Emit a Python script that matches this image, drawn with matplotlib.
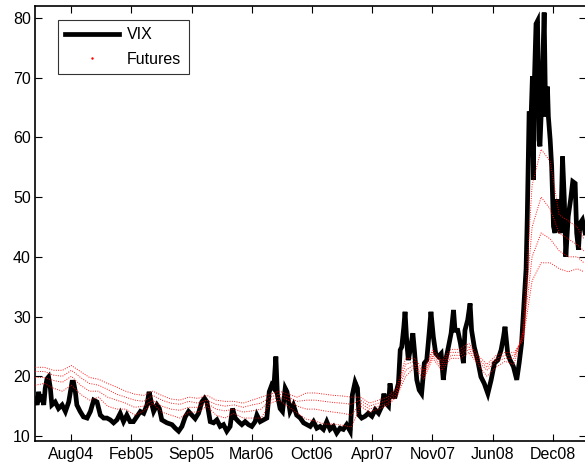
import numpy as np
import matplotlib
matplotlib.use("Agg")
import matplotlib.pyplot as plt
from matplotlib.lines import Line2D

plt.rcParams['font.family'] = ['Liberation Sans', 'DejaVu Sans']

START = np.datetime64('2004-04-04')

# VIX close, sampled at day offsets from START
vix_days = [0, 6, 11, 17, 22, 28, 33, 39, 44, 50, 55, 66, 77, 89, 100, 111, 122, 127, 133, 138,
            149, 160, 172, 183, 194, 205, 216, 227, 238, 249, 260, 271, 282, 293, 304, 315, 326, 337, 349, 360,
            371, 378, 385, 393, 404, 412, 420, 437, 454, 465, 476, 487, 498, 509, 520, 531, 542, 553, 562, 570,
            581, 592, 603, 614, 625, 636, 647, 655, 664, 675, 686, 697, 708, 719, 730, 736, 747, 758, 769, 777,
            785, 792, 799, 804, 813, 821, 830, 836, 846, 857, 868, 880, 891, 902, 913, 924, 935, 946, 957, 968,
            979, 990, 1001, 1012, 1023, 1034, 1046, 1053, 1062, 1070, 1075, 1084, 1095, 1106, 1118, 1129, 1140,
            1151, 1158, 1164, 1173, 1178, 1184, 1195, 1206, 1212, 1217, 1224, 1228, 1234, 1239, 1245, 1254,
            1259, 1267, 1275, 1283, 1292, 1300, 1308, 1314, 1322, 1330, 1339, 1348, 1355, 1363, 1372, 1381,
            1389, 1394, 1403, 1412, 1422, 1427, 1436, 1444, 1449, 1458, 1469, 1480, 1491, 1503, 1514, 1525,
            1536, 1547, 1555, 1560, 1569, 1577, 1588, 1599, 1607, 1615, 1624, 1630, 1634,
            1640, 1647, 1651, 1654, 1658, 1663, 1668, 1673, 1676, 1682, 1690, 1695, 1701, 1704, 1710, 1715,
            1721, 1726, 1732, 1737, 1745, 1751, 1757, 1762, 1770, 1778, 1785, 1793, 1798, 1804, 1809, 1817, 1826]
vix_values = [16.3, 15.2, 17.4, 15.7, 16.9, 15.2, 18.0, 19.6, 19.9, 18.0, 15.2, 15.7, 14.6, 15.2, 14.1, 15.7,
              19.0, 19.0, 17.4, 15.2, 14.1, 13.2, 13.0, 14.1, 16.0, 15.7, 13.5, 13.0, 13.0, 12.7, 12.2, 12.7,
              13.8, 12.4, 13.5, 12.4, 12.4, 13.2, 14.1, 13.8, 15.2, 17.4, 15.7, 14.1, 15.2, 14.6, 12.7, 12.2,
              11.9, 11.3, 10.8, 11.6, 13.2, 14.1, 13.5, 12.9, 13.8, 15.7, 16.3, 15.7, 12.4, 12.2, 12.7, 11.6,
              11.9, 10.8, 11.6, 14.6, 13.0, 12.4, 11.9, 12.4, 11.9, 11.6, 12.4, 13.5, 12.4, 12.7, 13.0, 17.4,
              18.5, 18.0, 23.3, 16.9, 14.6, 14.1, 18.0, 17.4, 14.1, 15.2, 13.5, 13.0, 12.2, 11.9, 11.6, 12.4,
              11.3, 11.6, 11.1, 12.4, 11.1, 11.6, 10.5, 11.3, 11.1, 11.9, 10.8, 16.9, 19.0, 18.0, 13.5, 13.0,
              13.3, 13.8, 13.3, 14.4, 13.8, 15.0, 17.1, 15.5, 15.0, 18.8, 16.6, 16.6, 18.8, 24.4, 24.9, 28.3,
              30.8, 25.5, 22.7, 24.4, 27.2, 24.4, 19.4, 17.7, 17.1, 22.2, 22.7, 27.2, 30.8, 26.6, 23.8, 23.3,
              23.8, 19.4, 22.7, 24.9, 27.2, 31.1, 27.7, 27.7, 25.5, 22.2, 27.7, 29.4, 32.2, 27.7, 24.9, 22.7,
              19.9, 18.8, 17.1, 19.4, 22.2, 22.7, 24.4, 26.6, 28.3, 23.8, 22.7, 21.6, 19.4, 22.2, 25.5, 33.0,
              38.0, 46.8,
              64.0, 64.0, 70.2, 52.9, 70.2, 79.0, 79.5, 59.6, 58.5, 66.3, 80.9, 63.5, 68.5, 63.5, 59.6, 55.1,
              45.1, 44.0, 49.6, 45.1, 44.0, 56.8, 49.6, 40.0, 46.8, 49.6, 52.6, 52.3, 44.0, 41.2, 45.6, 46.2,
              44.0]

# VIX futures settlement prices (nearest to farthest maturity), monthly samples
fut_days = [0, 30, 60, 90, 120, 150, 180, 210, 240, 270, 300, 330, 360, 390, 420, 450, 480, 510, 540, 570,
            600, 630, 660, 690, 720, 750, 780, 810, 840, 870, 900, 930, 960, 990, 1020, 1050, 1080, 1110, 1140,
            1170, 1200, 1230, 1260, 1290, 1320, 1350, 1380, 1410, 1440, 1470, 1500, 1530, 1560, 1590, 1620,
            1650, 1680, 1710, 1740, 1770, 1800, 1822]
fut_near = [18.5, 18.8, 18.0, 17.5, 18.5, 17.0, 16.0, 16.5, 15.0, 14.5, 14.5, 13.5, 14.2, 15.5, 14.0, 13.5,
            13.0, 14.0, 14.0, 15.0, 13.5, 13.0, 13.8, 13.0, 13.0, 13.0, 15.5, 16.0, 15.0, 13.8, 12.8, 12.5,
            12.0, 12.0, 11.8, 11.5, 15.0, 14.0, 14.5, 15.2, 16.5, 20.0, 21.5, 19.5, 23.0, 21.0, 23.0, 23.0,
            24.0, 22.0, 20.0, 21.5, 22.5, 22.0, 27.5, 52.0, 58.0, 56.0, 47.0, 46.0, 45.0, 43.0]
fut_mid1 = [19.8, 19.8, 19.3, 19.0, 20.0, 18.5, 17.5, 17.5, 16.5, 16.0, 15.5, 14.8, 15.0, 16.0, 15.0, 14.5,
            14.3, 14.8, 14.8, 15.5, 14.5, 14.2, 14.5, 14.0, 14.2, 14.5, 16.0, 16.5, 16.0, 15.0, 14.5, 14.5,
            14.2, 14.0, 13.8, 13.5, 15.5, 14.5, 15.0, 15.5, 17.0, 21.0, 22.0, 20.0, 23.5, 21.5, 23.5, 23.5,
            24.5, 22.5, 21.0, 22.5, 23.0, 23.0, 27.0, 45.0, 50.0, 48.0, 44.0, 43.0, 42.0, 41.0]
fut_mid2 = [20.8, 20.8, 20.2, 20.0, 21.0, 19.8, 18.8, 18.5, 17.8, 17.0, 16.5, 16.0, 15.8, 16.8, 16.0, 15.5,
            15.3, 15.8, 15.5, 16.0, 15.3, 15.0, 15.2, 14.8, 15.2, 15.5, 16.5, 17.0, 16.5, 15.8, 16.0, 16.0,
            15.8, 15.6, 15.5, 15.3, 16.0, 15.0, 15.5, 16.0, 17.5, 22.0, 22.5, 20.5, 24.0, 22.0, 24.0, 24.0,
            25.0, 23.0, 21.5, 23.0, 23.5, 23.5, 26.5, 40.0, 44.0, 43.0, 41.0, 40.0, 40.0, 39.0]
fut_far = [21.5, 21.5, 21.0, 21.0, 21.8, 20.8, 19.8, 19.5, 18.8, 18.2, 17.5, 17.0, 16.8, 17.5, 16.8, 16.2,
           16.0, 16.5, 16.3, 16.8, 16.0, 15.8, 15.8, 15.5, 16.0, 16.5, 17.0, 17.5, 17.0, 16.5, 17.2, 17.2,
           17.0, 16.8, 16.7, 16.5, 16.5, 15.5, 16.0, 16.5, 18.0, 23.0, 23.0, 21.0, 24.5, 22.5, 24.5, 24.5,
           25.5, 23.5, 22.0, 23.5, 24.0, 24.0, 26.0, 36.0, 39.0, 39.0, 38.0, 37.5, 38.0, 37.5]

tick_labels = ['Aug04', 'Feb05', 'Sep05', 'Mar06', 'Oct06', 'Apr07', 'Nov07', 'Jun08', 'Dec08']
tick_first = np.datetime64('2004-08-01')
tick_step_days = 200

vix_dates = START + np.array(vix_days, dtype='timedelta64[D]')
fut_dates = START + np.array(fut_days, dtype='timedelta64[D]')
tick_dates = tick_first + np.arange(len(tick_labels)) * np.timedelta64(tick_step_days, 'D')

fig = plt.figure(figsize=(5.85, 4.73), dpi=100)
ax = fig.add_axes([35 / 585, 1 - 441 / 473, 551 / 585, 435 / 473])

ax.plot(vix_dates, vix_values, color='black', lw=3.4, solid_joinstyle='miter', zorder=2)
for series in (fut_near, fut_mid1, fut_mid2, fut_far):
    ax.plot(fut_dates, series, color='red', lw=0.7, linestyle=(0, (1, 1.4)), alpha=0.9, zorder=3)

ax.set_xlim(START - np.timedelta64(1, 'D'), START + np.timedelta64(1829, 'D'))
ax.set_ylim(9.16, 82.0)
ax.set_xticks(tick_dates)
ax.set_xticklabels(tick_labels)
ax.set_yticks([10, 20, 30, 40, 50, 60, 70, 80])

ax.tick_params(direction='in', length=5, width=0.8, top=True, right=True,
               labelsize=11.5, colors='black')
ax.tick_params(axis='x', pad=4.5)
ax.tick_params(axis='y', pad=3)
for side in ('left', 'bottom', 'top', 'right'):
    ax.spines[side].set_linewidth(1.2)

handles = [Line2D([], [], color='black', lw=3.4),
           Line2D([], [], color='red', marker='.', markersize=1.5, linestyle='none')]
leg = ax.legend(handles, ['VIX', 'Futures'], loc='upper left', bbox_to_anchor=(0.041, 0.968),
                frameon=True, fancybox=False, edgecolor='black', fontsize=11.5,
                handlelength=3.4, handletextpad=0.5, borderpad=0.45, labelspacing=0.6,
                borderaxespad=0.0)
leg.get_frame().set_linewidth(0.8)

fig.savefig('out.png', dpi=100)
